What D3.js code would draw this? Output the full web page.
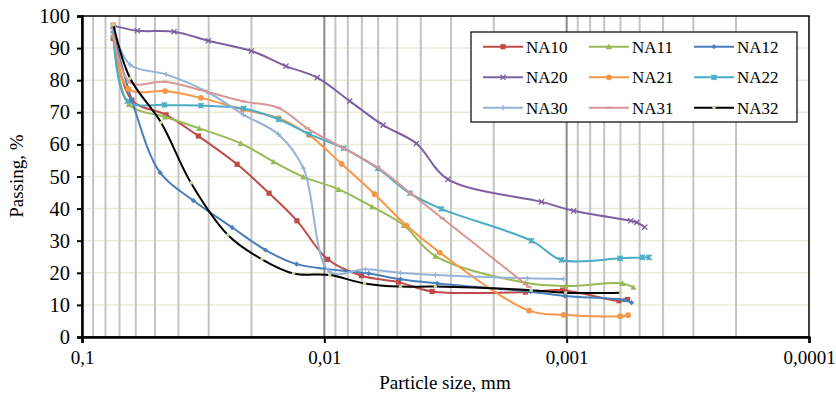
<!DOCTYPE html>
<html><head><meta charset="utf-8">
<script src="https://cdn.jsdelivr.net/npm/d3@7"></script>
<style>body{margin:0;background:#fff}svg{display:block}text{font-family:"Liberation Serif","Times New Roman",serif}</style>
</head><body><svg id="c" width="836" height="396"></svg>
<script>
// Data: particle size (mm) and passing (%)
const seriesNames = ["NA10","NA11","NA12","NA20","NA21","NA22","NA30","NA31","NA32"];
const NA10_d = [0.0743,0.0623,0.045,0.0331,0.0229,0.0169,0.01297,0.00969,0.00703,0.00494,0.00359,0.00148,0.00104,0.000608,0.000561];
const NA10_p = [93.0,73.8,69.2,62.6,53.8,44.8,36.2,24.2,19.1,17.1,14.2,14.0,14.6,11.3,11.7];
const NA11_d = [0.0743,0.064,0.0454,0.0328,0.0221,0.0162,0.0122,0.00873,0.00635,0.0047,0.00348,0.00148,0.00101,0.000589,0.00053];
const NA11_p = [93.8,72.5,68.6,65.0,60.3,54.6,49.9,46.0,40.6,34.8,25.2,16.9,15.9,16.7,15.5];
const NA12_d = [0.0743,0.0623,0.0476,0.0347,0.024,0.0175,0.0130,0.00656,0.00485,0.00342,0.00141,0.00102,0.00058,0.00054];
const NA12_p = [95.1,73.8,51.2,42.5,34.1,27.1,22.7,19.8,18.0,16.7,14.1,12.8,11.5,10.7];
const NA20_d = [0.0743,0.0591,0.0417,0.0301,0.0200,0.0144,0.0107,0.00786,0.00572,0.00417,0.00309,0.00127,0.000936,0.000544,0.000514,0.000476];
const NA20_p = [97.0,95.4,95.1,92.3,89.1,84.4,80.8,73.5,66.0,60.3,49.1,42.1,39.3,36.2,35.7,34.2];
const NA21_d = [0.0743,0.0644,0.0454,0.0323,0.0217,0.01545,0.01154,0.00848,0.0062,0.00458,0.00334,0.00143,0.00103,0.000602,0.000558];
const NA21_p = [97.2,77.3,76.6,74.5,70.9,68.2,62.9,53.9,44.5,34.7,26.3,8.2,6.9,6.5,6.8];
const NA22_d = [0.0743,0.065,0.0457,0.0323,0.0215,0.01545,0.01154,0.00832,0.00602,0.00444,0.00329,0.0014,0.00105,0.000602,0.000487,0.000457];
const NA22_p = [95.5,73.5,72.3,72.1,71.2,67.8,63.2,58.8,52.5,44.8,39.9,30.0,24.0,24.5,24.8,24.8];
const NA30_d = [0.0743,0.0633,0.045,0.0305,0.0216,0.01545,0.0122,0.0095,0.00677,0.00485,0.00348,0.00145,0.00103];
const NA30_p = [95.9,84.8,81.8,76.4,69.3,63.1,52.6,20.3,21.1,20.0,19.3,18.3,18.1];
const NA31_d = [0.0743,0.0633,0.0454,0.0323,0.0216,0.01545,0.01176,0.00832,0.00605,0.00441,0.00326,0.00143];
const NA31_p = [94.0,79.3,79.5,76.9,73.4,71.4,65.0,58.8,52.9,44.8,37.0,15.6];
const NA32_d = [0.0743,0.0633,0.0472,0.0355,0.025,0.0181,0.0134,0.0095,0.00682,0.00485,0.00348,0.0014,0.00101,0.000598];
const NA32_p = [97.3,80.6,66.8,48.0,31.8,24.2,19.8,19.3,16.7,15.7,15.7,14.6,13.8,13.8];
const yTicks = [0,10,20,30,40,50,60,70,80,90,100];
const xTicks = [0.1,0.01,0.001,0.0001];
const xTickLabels = ["0,1","0,01","0,001","0,0001"];

const colors = ["#BE4B48","#98B954","#4A7EBB","#7D60A0","#F79646","#4BACC6","#95B3D7","#D99694","#000000"];
const markerColors = ["#BE4B48","#98B954","#4A7EBB","#7D60A0","#F79646","#4BACC6","#95B3D7","#D99694","#C3D69B"];
const markerTypes = ["square","triangle","diamond","x","circle","star","plus","dash","dot"];
const dArr = [NA10_d,NA11_d,NA12_d,NA20_d,NA21_d,NA22_d,NA30_d,NA31_d,NA32_d];
const pArr = [NA10_p,NA11_p,NA12_p,NA20_p,NA21_p,NA22_p,NA30_p,NA31_p,NA32_p];

const svg = d3.select("#c");
const L=82,R=809,T=16,B=337;
const x = d3.scaleLog().domain([0.1,0.0001]).range([L,R]);
const y = d3.scaleLinear().domain([0,100]).range([B,T]);

// horizontal grid
svg.append("g").selectAll("line").data(yTicks.filter(v=>v>0&&v<100)).join("line")
  .attr("x1",L).attr("x2",R).attr("y1",d=>y(d)).attr("y2",d=>y(d))
  .attr("stroke","#ebebdc").attr("stroke-width",1.5);
// vertical grid
const minor=[];
[0.01,0.001,0.0001].forEach(b=>{for(let k=9;k>=1;k--){const v=b*k; if(v<0.1-1e-12) minor.push(v);}});
svg.append("g").selectAll("line").data(minor.filter(v=>Math.abs(v-0.01)>1e-9&&Math.abs(v-0.001)>1e-9&&v>0.00011)).join("line")
  .attr("x1",d=>x(d)).attr("x2",d=>x(d)).attr("y1",T).attr("y2",B)
  .attr("stroke","#c4c4c4").attr("stroke-width",2);
svg.append("g").selectAll("line").data([0.01,0.001]).join("line")
  .attr("x1",d=>x(d)).attr("x2",d=>x(d)).attr("y1",T).attr("y2",B)
  .attr("stroke","#8a8a8a").attr("stroke-width",2);

// series
const line = d3.line().x(d=>x(d[0])).y(d=>y(d[1])).curve(d3.curveCatmullRom.alpha(0.5));
function marker(g,type,cx,cy,col){
  const s=2.6;
  if(type==="square") g.append("rect").attr("x",cx-s).attr("y",cy-s).attr("width",2*s).attr("height",2*s).attr("fill",col);
  else if(type==="triangle") g.append("path").attr("d",`M${cx},${cy-s-0.5}L${cx+s+0.5},${cy+s}L${cx-s-0.5},${cy+s}Z`).attr("fill",col);
  else if(type==="diamond") g.append("path").attr("d",`M${cx},${cy-s}L${cx+s},${cy}L${cx},${cy+s}L${cx-s},${cy}Z`).attr("fill",col);
  else if(type==="circle") g.append("circle").attr("cx",cx).attr("cy",cy).attr("r",s+0.3).attr("fill",col);
  else if(type==="dot") g.append("circle").attr("cx",cx).attr("cy",cy).attr("r",1.8).attr("fill",col);
  else if(type==="x") g.append("path").attr("d",`M${cx-s},${cy-s}L${cx+s},${cy+s}M${cx-s},${cy+s}L${cx+s},${cy-s}`).attr("stroke",col).attr("stroke-width",1.3).attr("fill","none");
  else if(type==="plus") g.append("path").attr("d",`M${cx-s},${cy}L${cx+s},${cy}M${cx},${cy-s}L${cx},${cy+s}`).attr("stroke",col).attr("stroke-width",1.3);
  else if(type==="dash") g.append("path").attr("d",`M${cx-s},${cy}L${cx+s},${cy}`).attr("stroke",col).attr("stroke-width",2);
  else if(type==="star") g.append("path").attr("d",`M${cx-s},${cy-s}L${cx+s},${cy+s}M${cx-s},${cy+s}L${cx+s},${cy-s}M${cx},${cy-s}L${cx},${cy+s}`).attr("stroke",col).attr("stroke-width",1.5);
}
seriesNames.forEach((n,i)=>{
  const pts=dArr[i].map((d,j)=>[d,pArr[i][j]]);
  const g=svg.append("g");
  g.append("path").attr("d",line(pts)).attr("fill","none").attr("stroke",colors[i]).attr("stroke-width",2);
  pts.forEach(p=>marker(g,markerTypes[i],x(p[0]),y(p[1]),markerColors[i]));
});

// axes frame
svg.append("rect").attr("x",L).attr("y",T).attr("width",R-L).attr("height",B-T).attr("fill","none").attr("stroke","#000").attr("stroke-width",1.5);
const ya=svg.append("g").attr("transform",`translate(${L},0)`).call(d3.axisLeft(y).tickValues(yTicks).tickSize(5).tickPadding(7));
const xa=svg.append("g").attr("transform",`translate(0,${B})`).call(d3.axisBottom(x).tickValues(xTicks).tickFormat((d,i)=>xTickLabels[i]).tickSize(6).tickPadding(8));
[ya,xa].forEach(a=>{a.attr("font-family",null);a.select(".domain").attr("stroke","#000").attr("stroke-width",2.5);a.selectAll(".tick line").attr("stroke","#000").attr("stroke-width",2);a.selectAll("text").attr("fill","#000").style("font-size","19px").style("font-family","'Liberation Serif',serif");});
ya.selectAll("text").style("font-size","20.5px");

svg.append("text").attr("x",445).attr("y",389).attr("text-anchor","middle").style("font-size","19px").text("Particle size, mm");
svg.append("text").attr("transform","translate(23,176) rotate(-90)").attr("text-anchor","middle").style("font-size","19px").text("Passing, %");

// legend
const lg=svg.append("g");
lg.append("rect").attr("x",471).attr("y",32).attr("width",326).attr("height",90).attr("fill","#fff").attr("stroke","#000").attr("stroke-width",1.2);
const colX=[483,589,694], rowY=[46.7,77.3,107.7];
seriesNames.forEach((n,i)=>{
  const cx=colX[i%3], cy=rowY[Math.floor(i/3)];
  lg.append("line").attr("x1",cx).attr("x2",cx+40).attr("y1",cy).attr("y2",cy).attr("stroke",colors[i]).attr("stroke-width",2);
  marker(lg,markerTypes[i],cx+20,cy,markerColors[i]);
  lg.append("text").attr("x",cx+43).attr("y",cy+6).style("font-size","17px").text(n);
});
</script></body></html>
